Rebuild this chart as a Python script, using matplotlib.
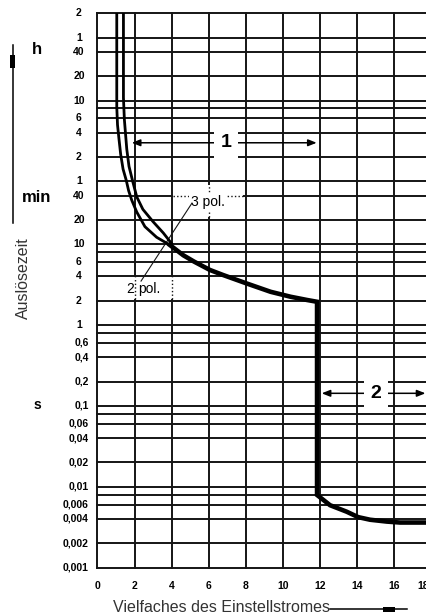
import matplotlib.pyplot as plt
import matplotlib.transforms as mtransforms
from matplotlib.lines import Line2D
from matplotlib.patches import Rectangle

plt.rcParams["font.family"] = ["Liberation Sans", "DejaVu Sans"]

# --------------------------------------------------
# DATEN
# --------------------------------------------------

x_ticks = [0, 2, 4, 6, 8, 10, 12, 14, 16, 18]

# horizontale Gitterlinien in Sekunden
gitter_sekunden = [
    7200, 3600, 2400, 1200, 600, 480, 360, 240, 120, 60,
    40, 20, 10, 8, 6, 4, 2, 1, 0.8, 0.6, 0.4, 0.2, 0.1,
    0.08, 0.06, 0.04, 0.02, 0.01, 0.008, 0.006, 0.004, 0.002, 0.001,
]

y_tick_sekunden = [
    7200, 3600, 2400, 1200, 600, 360, 240, 120, 60, 40, 20, 10, 6, 4,
    2, 1, 0.6, 0.4, 0.2, 0.1, 0.06, 0.04, 0.02, 0.01, 0.006, 0.004,
    0.002, 0.001,
]
y_tick_labels = [
    "2", "1", "40", "20", "10", "6", "4", "2", "1", "40", "20", "10", "6", "4",
    "2", "1", "0,6", "0,4", "0,2", "0,1", "0,06", "0,04", "0,02", "0,01",
    "0,006", "0,004", "0,002", "0,001",
]

kurve_3pol_x = [1.04, 1.04, 1.08, 1.16, 1.25, 1.38, 1.55, 1.68, 1.85, 2.12, 2.56, 3.19, 3.9]
kurve_3pol_t = [7200, 500, 300, 200, 130, 85, 62, 46, 35, 25, 16.5, 12.2, 9.8]

kurve_2pol_x = [1.40, 1.40, 1.45, 1.58, 1.70, 1.90, 2.12, 2.45, 3.0, 3.55, 4.0]
kurve_2pol_t = [7200, 650, 350, 150, 92, 60, 38.5, 27, 19, 13.8, 10.2]

kurve_x = [3.9, 4.63, 5.21, 6.07, 6.79, 8.05, 9.34, 10.42, 11.32, 11.85,
           11.85, 12.55, 13.45, 14.07, 14.71, 15.61, 16.33, 18.0]
kurve_t = [9.8, 7.3, 6.1, 4.8, 4.15, 3.27, 2.58, 2.24, 2.04, 1.94,
           0.0079, 0.0059, 0.0049, 0.0042, 0.0039, 0.0037, 0.0036, 0.0036]

# --------------------------------------------------
# FIGUR
# --------------------------------------------------

W, H = 427, 615
fig = plt.figure(figsize=(W / 100, H / 100), dpi=100)


def fx(px):
    return px / W


def fy(py):
    return 1 - py / H


ax = fig.add_axes([fx(97.5), fy(567.5), (431 - 97.5) / W, (567.5 - 13.3) / H])
ax.set_yscale("log")
ax.set_xlim(0, 18)
ax.set_ylim(0.001, 7200)
ax.axis("off")

gitter = dict(color="#151515", lw=1.4, solid_capstyle="projecting", clip_on=False, zorder=1)
for x in x_ticks:
    ax.plot([x, x], [0.001, 7200], **gitter)
for t in gitter_sekunden:
    ax.plot([0, 18], [t, t], **gitter)

# Beschriftungsfelder mit gepunkteten Gitterlinien
punkt = dict(color="#151515", lw=1.0, ls=(0, (1, 1.6)), zorder=3)
ax.add_patch(Rectangle((4.08, 21.7), 3.8, 54 - 21.7, facecolor="white", edgecolor="none", zorder=2))
ax.plot([6, 6], [21.7, 54], **punkt)
ax.plot([4.08, 7.88], [40, 40], **punkt)
ax.add_patch(Rectangle((1.4, 2.12), 2.7, 3.9 - 2.12, facecolor="white", edgecolor="none", zorder=2))
ax.plot([2, 2], [2.12, 3.9], **punkt)
ax.plot([4, 4], [2.12, 3.9], **punkt)

ax.text(5.05, 33.3, "3 pol.", fontsize=10, ha="left", va="center", zorder=4,
        bbox=dict(boxstyle="square,pad=0.15", facecolor="white", edgecolor="none"))
ax.text(1.55, 2.8, "2", fontsize=10, ha="left", va="center", zorder=2.5)
ax.text(2.22, 2.8, "pol.", fontsize=10, ha="left", va="center", zorder=2.5)
ax.plot([5.10, 2.35], [32.3, 3.5], color="#151515", lw=0.8, zorder=4)

# Kennlinien
ax.plot(kurve_3pol_x, kurve_3pol_t, color="black", lw=2.0, zorder=5)
ax.plot(kurve_2pol_x, kurve_2pol_t, color="black", lw=2.0, zorder=5)
ax.plot(kurve_x, kurve_t, color="black", lw=3.3, zorder=5, solid_joinstyle="miter")

# Bereichspfeile 1 und 2
pfeil = dict(arrowstyle="<|-|>,head_length=0.5,head_width=0.2", color="black",
             lw=1.1, shrinkA=0, shrinkB=0, mutation_scale=10)
ax.annotate("", xy=(1.85, 180), xytext=(11.83, 180), arrowprops=pfeil, zorder=6)
ax.text(6.93, 180, "1", fontsize=14, fontweight="bold", ha="center", va="center", zorder=7,
        bbox=dict(boxstyle="square,pad=0.35", facecolor="white", edgecolor="none"))
ax.annotate("", xy=(12.1, 0.143), xytext=(17.7, 0.143), arrowprops=pfeil, zorder=6)
ax.text(15.03, 0.143, "2", fontsize=14, fontweight="bold", ha="center", va="center", zorder=7,
        bbox=dict(boxstyle="square,pad=0.35", facecolor="white", edgecolor="none"))

# --------------------------------------------------
# ACHSENBESCHRIFTUNG
# --------------------------------------------------

ytrans = mtransforms.blended_transform_factory(fig.transFigure, ax.transData)
for t, lab in zip(y_tick_sekunden, y_tick_labels):
    if "," in lab:
        ax.text(fx(89), t, lab, transform=ytrans, ha="right", va="center",
                fontsize=7.5, fontweight="bold")
    else:
        ax.text(fx(79), t, lab, transform=ytrans, ha="center", va="center",
                fontsize=7.5, fontweight="bold")

# die letzte Zahl (18) ist im Original am rechten Rand angeschnitten
xtrans = mtransforms.blended_transform_factory(ax.transData, fig.transFigure)
for x in x_ticks:
    ax.text(min(x, 17.6), fy(586), str(x), transform=xtrans, ha="center", va="center",
            fontsize=7.5, fontweight="bold")

fig.text(fx(37), fy(49), "h", ha="center", va="center", fontsize=12, fontweight="bold")
fig.text(fx(37), fy(197), "min", ha="center", va="center", fontsize=12, fontweight="bold")
fig.text(fx(37), fy(405), "s", ha="center", va="center", fontsize=10, fontweight="bold")

fig.text(fx(23), fy(278), "Auslösezeit", rotation=90, ha="center", va="center",
         fontsize=11.5, color="#333333")
fig.text(fx(113), fy(612), "Vielfaches des Einstellstromes", ha="left", va="baseline",
         fontsize=11.5, color="#333333")

# Pfeilsymbole links und unten
fig.add_artist(Line2D([fx(12.7), fx(12.7)], [fy(45), fy(223)], color="black", lw=1.1))
fig.add_artist(Rectangle((fx(10.2), fy(68)), 5 / W, 13 / H, facecolor="black",
                         edgecolor="none", transform=fig.transFigure))
fig.add_artist(Line2D([fx(330), fx(407)], [fy(609), fy(609)], color="black", lw=1.1))
fig.add_artist(Rectangle((fx(383), fy(611.5)), 12 / W, 5 / H, facecolor="black",
                         edgecolor="none", transform=fig.transFigure))

fig.savefig("out.png", dpi=100)
